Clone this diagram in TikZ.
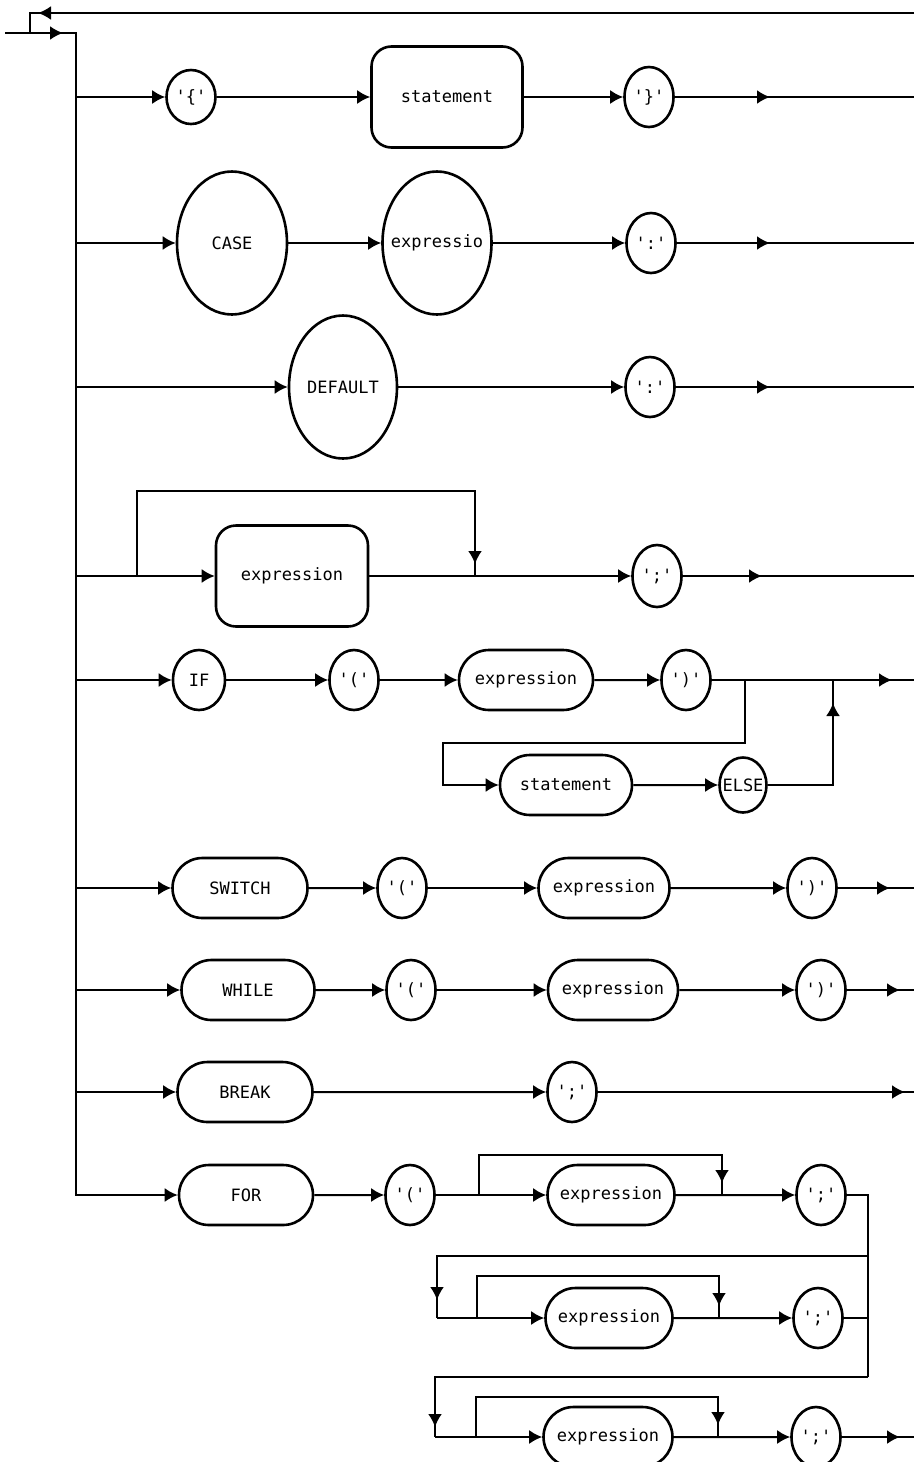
\documentclass[tikz,border=0pt]{standalone}
\usepackage{fontspec}
\setmonofont{DejaVu Sans Mono}
\usetikzlibrary{shapes.geometric,shapes.misc,arrows.meta,decorations.markings}

\tikzset{
    tok/.style={draw, ellipse, line width=2.6pt, inner sep=0pt,
        minimum width=49pt, minimum height=60pt},
    kwoval/.style={tok, minimum width=110pt, minimum height=143pt},
    ntpill/.style={draw, rounded rectangle, line width=2.6pt, inner sep=0pt,
        minimum width=132pt, minimum height=60pt},
    ntbox/.style={draw, rounded corners=20pt, line width=2.6pt, inner sep=0pt,
        minimum width=151pt, minimum height=101pt},
    wire/.style={line width=2pt},
    flow/.style={wire, -{Latex[length=13pt,width=14pt]}},
    tipat/.style={postaction={decorate}, decoration={markings,
        mark=at position #1 with {\arrow{Latex[length=13pt,width=14pt]}}}},
}

\begin{document}
\begin{tikzpicture}[x=1pt, y=-1pt, font=\ttfamily\fontsize{17}{19}\selectfont]
    \useasboundingbox (0,0) rectangle (914,1462);
    \coordinate (in) at (5,33);
    \coordinate (spine) at (76,33);
    \coordinate (back) at (30,33);
    \coordinate (edge) at (914,13);

    % compound statement
    \node[tok, minimum height=54pt] (lbr) at (191,97) {'\{'};
    \node[ntbox] (stmt) at (447,97) {statement};
    \node[tok] (rbr) at (649,97) {'\}'};

    % case / default labels
    \node[kwoval] (case) at (232,243) {CASE};
    \node[kwoval, inner xsep=-9pt, minimum width=109pt] (caseexp) at (437,243) {expressio};
    \node[tok] (casecol) at (651,243) {':'};
    \node[kwoval, minimum width=108pt] (dflt) at (343,387) {DEFAULT};
    \node[tok] (dfltcol) at (650,387) {':'};

    % expression statement
    \node[ntbox, minimum width=152pt] (expr) at (292,576) {expression};
    \node[tok, minimum height=62pt] (exprsemi) at (657,576) {';'};

    % if / else
    \node[tok, minimum width=52pt] (if) at (199,680) {IF};
    \node[tok] (iflp) at (354,680) {'('};
    \node[ntpill, minimum width=134pt] (ifexp) at (526,680) {expression};
    \node[tok] (ifrp) at (686,680) {')'};
    \node[ntpill] (ifstmt) at (566,785) {statement};
    \node[tok, inner xsep=-5pt, minimum width=47pt, minimum height=55pt] (else) at (743,785) {ELSE};

    % switch, while, break
    \node[ntpill, minimum width=135pt] (switch) at (240,888) {SWITCH};
    \node[tok] (swlp) at (402,888) {'('};
    \node[ntpill, minimum width=131pt] (swexp) at (604,888) {expression};
    \node[tok] (swrp) at (812,888) {')'};
    \node[ntpill, minimum width=133pt] (while) at (248,990) {WHILE};
    \node[tok] (whlp) at (411,990) {'('};
    \node[ntpill, minimum width=130pt] (whexp) at (613,990) {expression};
    \node[tok] (whrp) at (821,990) {')'};
    \node[ntpill, minimum width=135pt] (break) at (245,1092) {BREAK};
    \node[tok] (brsemi) at (572,1092) {';'};

    % for
    \node[ntpill, minimum width=134pt] (for) at (246,1195) {FOR};
    \node[tok] (forlp) at (410,1195) {'('};
    \node[ntpill, minimum width=127pt] (forexpa) at (611,1195) {expression};
    \node[tok] (forsemia) at (821,1195) {';'};
    \node[ntpill, minimum width=127pt] (forexpb) at (609,1318) {expression};
    \node[tok] (forsemib) at (818,1318) {';'};
    \node[ntpill, minimum width=129pt] (forexpc) at (608,1437) {expression};
    \node[tok] (forsemic) at (816,1437) {';'};

    % entry, spine and the way back round
    \draw[flow, tipat=58pt] (in) -- (spine) |- (for.west);
    \draw[wire, tipat=-28pt] (edge) -| (back);

    \draw[flow] (lbr.west -| spine) -- (lbr.west);
    \draw[flow] (lbr) -- (stmt);
    \draw[flow] (stmt) -- (rbr);
    \draw[wire, tipat=-144pt] (rbr) -- (rbr -| edge);

    \draw[flow] (case.west -| spine) -- (case.west);
    \draw[flow] (case) -- (caseexp);
    \draw[flow] (caseexp) -- (casecol);
    \draw[wire, tipat=-144pt] (casecol) -- (casecol -| edge);

    \draw[flow] (dflt.west -| spine) -- (dflt.west);
    \draw[flow] (dflt) -- (dfltcol);
    \draw[wire, tipat=-144pt] (dfltcol) -- (dfltcol -| edge);

    \draw[flow] (expr.west -| spine) -- (expr.west);
    \coordinate (skip) at (137,576);
    \coordinate (skipend) at (475,576);
    \draw[wire, tipat=-12pt] (skip) -- ++(0,-85) -| (skipend);
    \draw[flow] (expr) -- (exprsemi);
    \draw[wire, tipat=-152pt] (exprsemi) -- (exprsemi -| edge);

    \draw[flow] (if.west -| spine) -- (if.west);
    \draw[flow] (if) -- (iflp);
    \draw[flow] (iflp) -- (ifexp);
    \draw[flow] (ifexp) -- (ifrp);
    \draw[wire, tipat=-22pt] (ifrp) -- (ifrp -| edge);
    \coordinate (ifsplit) at (745,680);
    \coordinate (ifdrop) at (443,743);
    \coordinate (ifjoin) at (833,680);
    \draw[flow] (ifsplit) |- (ifdrop) |- (ifstmt.west);
    \draw[flow] (ifstmt) -- (else);
    \draw[wire, tipat=-23pt] (else) -| (ifjoin);

    \draw[flow] (switch.west -| spine) -- (switch.west);
    \draw[flow] (switch) -- (swlp);
    \draw[flow] (swlp) -- (swexp);
    \draw[flow] (swexp) -- (swrp);
    \draw[wire, tipat=-24pt] (swrp) -- (swrp -| edge);

    \draw[flow] (while.west -| spine) -- (while.west);
    \draw[flow] (while) -- (whlp);
    \draw[flow] (whlp) -- (whexp);
    \draw[flow] (whexp) -- (whrp);
    \draw[wire, tipat=-14pt] (whrp) -- (whrp -| edge);

    \draw[flow] (break.west -| spine) -- (break.west);
    \draw[flow] (break) -- (brsemi);
    \draw[wire, tipat=-9pt] (brsemi) -- (brsemi -| edge);

    % for: three optional expressions
    \draw[flow] (for) -- (forlp);
    \draw[flow] (forlp) -- (forexpa);
    \coordinate (skipa) at (479,1195);
    \coordinate (skipaend) at (722,1195);
    \draw[wire, tipat=-12pt] (skipa) -- ++(0,-40) -| (skipaend);
    \draw[flow] (forexpa) -- (forsemia);

    \coordinate (wrapa) at (868,1256);
    \coordinate (wrapb) at (868,1377);
    \coordinate (dropa) at (437,1256);
    \coordinate (dropb) at (435,1377);
    \draw[wire] (forsemia) -| (wrapa) -- (wrapb);
    \draw[wire, tipat=-18pt] (wrapa) -- (dropa) -- (dropa |- forexpb);
    \draw[flow] (dropa |- forexpb) -- (forexpb);
    \coordinate (skipb) at (477,1318);
    \coordinate (skipbend) at (719,1318);
    \draw[wire, tipat=-12pt] (skipb) -- ++(0,-42) -| (skipbend);
    \draw[flow] (forexpb) -- (forsemib);
    \draw[wire] (forsemib) -- (forsemib -| wrapa);

    \draw[wire, tipat=-10pt] (wrapb) -- (dropb) -- (dropb |- forexpc);
    \draw[flow] (dropb |- forexpc) -- (forexpc);
    \coordinate (skipc) at (476,1437);
    \coordinate (skipcend) at (718,1437);
    \draw[wire, tipat=-12pt] (skipc) -- ++(0,-40) -| (skipcend);
    \draw[flow] (forexpc) -- (forsemic);
    \draw[wire, tipat=-14pt] (forsemic) -- (forsemic -| edge);
\end{tikzpicture}
\end{document}
